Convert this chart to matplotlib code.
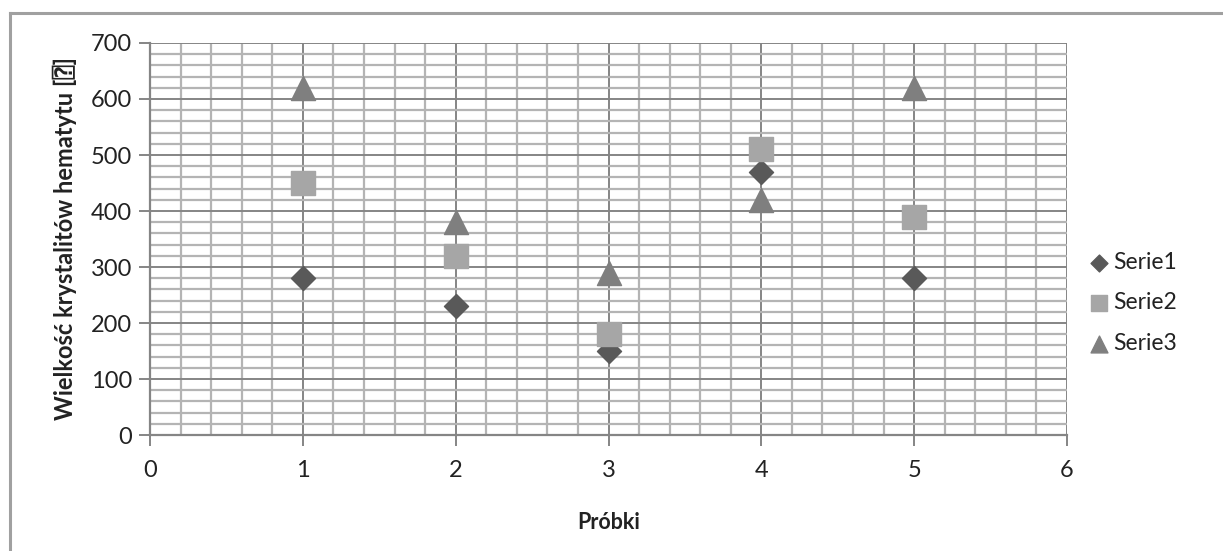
import matplotlib.pyplot as plt
from matplotlib.lines import Line2D
from matplotlib.ticker import MultipleLocator

plt.rcParams['font.family'] = ['Lato', 'DejaVu Sans', 'DejaVu Sans Mono']

# measurements per sample
probki = [1, 2, 3, 4, 5]
serie1 = [280, 230, 150, 470, 280]
serie2 = [450, 320, 180, 510, 390]
serie3 = [620, 380, 290, 420, 620]
nazwy = ['Serie1', 'Serie2', 'Serie3']

W, H = 1223, 551
fig = plt.figure(figsize=(W / 100, H / 100), dpi=100)
ax = fig.add_axes([150 / W, 1 - 435 / H, (1067 - 150) / W, (435 - 43) / H])

# frame around the whole chart (only left and top edges show)
fig.add_artist(Line2D([10 / W, 10 / W], [0, 1 - 13 / H], color='#a0a0a0', lw=2.2))
fig.add_artist(Line2D([10 / W, 1], [1 - 13 / H, 1 - 13 / H], color='#a0a0a0', lw=2.2))

ax.set_xlim(0, 6)
ax.set_ylim(0, 700)
ax.xaxis.set_major_locator(MultipleLocator(1))
ax.xaxis.set_minor_locator(MultipleLocator(0.2))
ax.yaxis.set_major_locator(MultipleLocator(100))
ax.yaxis.set_minor_locator(MultipleLocator(20))

ax.grid(which='minor', color='#b4b4b4', lw=1.6)
ax.grid(which='major', color='#858585', lw=1.4)
ax.set_axisbelow(True)

for s in ['top', 'right']:
    ax.spines[s].set_visible(False)
for s in ['left', 'bottom']:
    ax.spines[s].set_color('#858585')
    ax.spines[s].set_linewidth(1.6)

ax.tick_params(which='major', length=8, width=1.4, color='#858585',
               labelsize=17, labelcolor='#222222', pad=5)
ax.tick_params(which='minor', length=0)
ax.tick_params(axis='x', pad=10)

ax.scatter(probki, serie1, marker='D', s=150, color='#595959', zorder=3, label=nazwy[0])
ax.scatter(probki, serie2, marker='s', s=300, color='#a6a6a6', zorder=3, label=nazwy[1])
ax.scatter(probki, serie3, marker='^', s=300, color='#7f7f7f', zorder=3, label=nazwy[2])

ax.set_xlabel('Próbki', fontsize=15.5, fontweight='bold', labelpad=22, color='#222222')
ax.set_ylabel('Wielkość krystalitów hematytu [⍰]', fontsize=17, fontweight='bold',
              labelpad=10, color='#222222')

ax.legend(loc='center left', bbox_to_anchor=(1.0, 0.337), frameon=False,
          fontsize=16.5, handlelength=1.0, handletextpad=0.1, labelspacing=0.85,
          markerscale=0.7, scatterpoints=1, labelcolor='#222222')

fig.savefig('out.png', dpi=100)
